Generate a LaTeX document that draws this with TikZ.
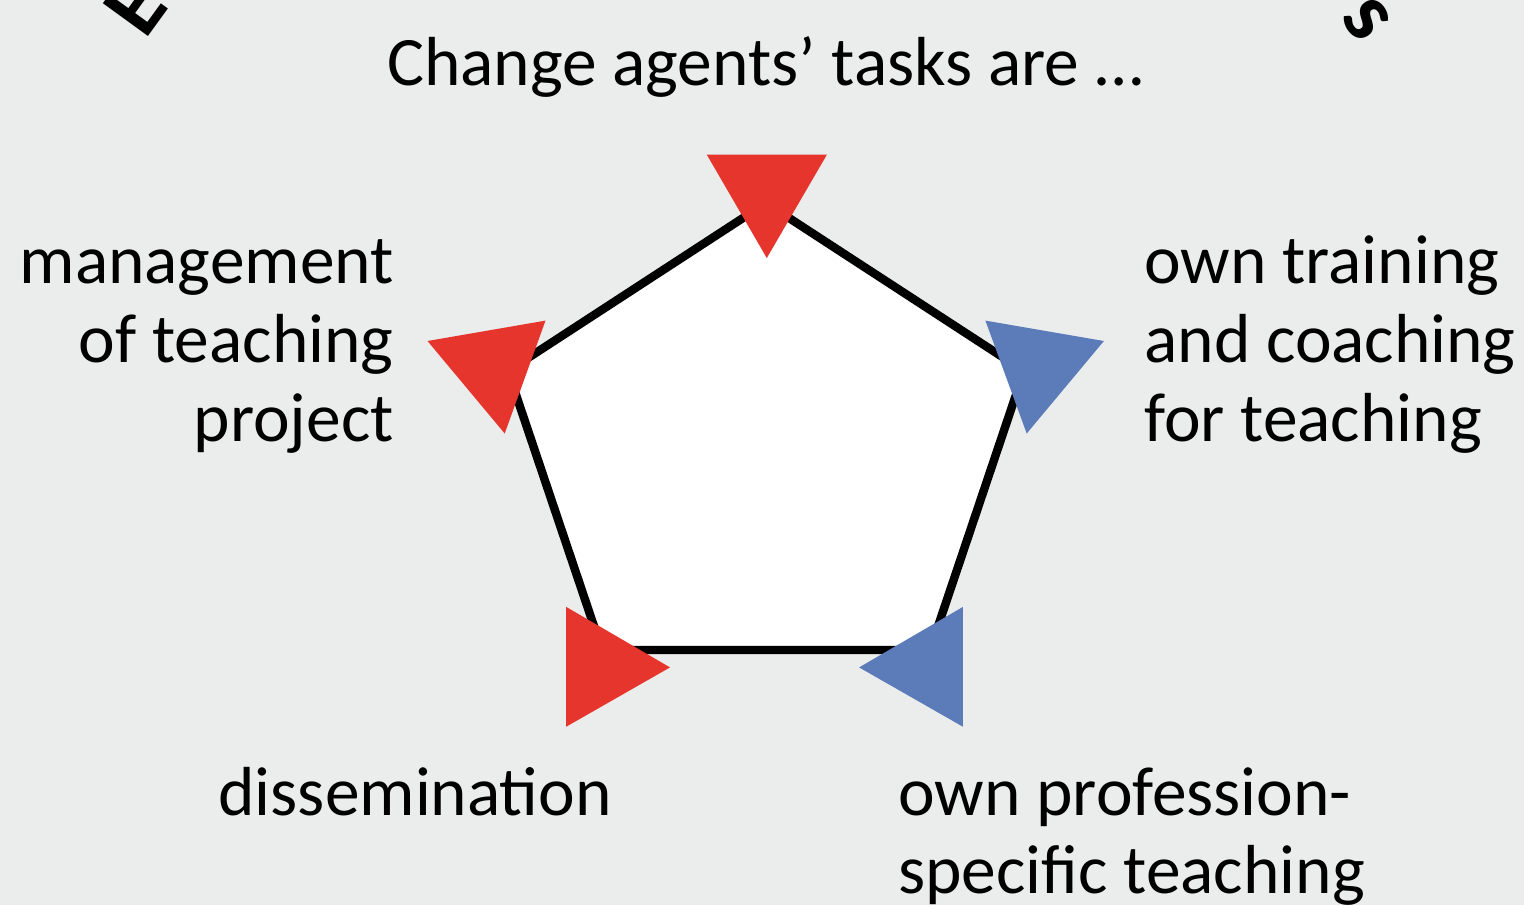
\documentclass[tikz,border=0pt]{standalone}
\usepackage{fontspec}
\setmainfont{Carlito}
\definecolor{bg}{RGB}{235,237,236}
\definecolor{tred}{RGB}{229,53,45}
\definecolor{tblue}{RGB}{92,123,185}
\begin{document}
\begin{tikzpicture}[x=0.5pt,y=-0.5pt,
  lbl/.style={inner sep=0pt,font=\fontsize{34.7}{40}\selectfont},
  arc/.style={inner sep=0pt,font=\fontsize{43}{50}\selectfont\bfseries},
  pent/.style={draw=black,line width=4.2pt,fill=white},
  redtri/.style={fill=tred},
  bluetri/.style={fill=tblue}]
\fill[bg] (0,0) rectangle (1524,905);
\useasboundingbox (0,0) rectangle (1524,905);
% pentagon
\coordinate (pT) at (766,203);
\coordinate (pR) at (1024,371);
\coordinate (pBR) at (930,650);
\coordinate (pBL) at (602,650);
\coordinate (pL) at (508,371);
\draw[pent] (pT) -- (pR) -- (pBR) -- (pBL) -- (pL) -- cycle;
% triangles
\fill[redtri] (706.7,154.5) -- (827,154.5) -- (766.8,258) -- cycle;
\fill[redtri] (427.5,341) -- (545.5,320.6) -- (504.7,433.5) -- cycle;
\fill[bluetri] (985.4,320.6) -- (1103.9,341) -- (1026.7,433.5) -- cycle;
\fill[redtri] (566.2,606.9) -- (566.2,726.7) -- (670,667.4) -- cycle;
\fill[bluetri] (962.9,606.9) -- (962.9,726.7) -- (859.1,667.4) -- cycle;
% title
\node[lbl,anchor=base] (title) at (765,85) {Change agents’ tasks are …};
% left
\node[lbl,anchor=base east] (m1) at (394,283) {management};
\node[lbl,anchor=base east] (m2) at (394,362) {of teaching};
\node[lbl,anchor=base east] (m3) at (394,441) {project};
% right
\node[lbl,anchor=base west] (r1) at (1144,283) {own training};
\node[lbl,anchor=base west] (r2) at (1144,362) {and coaching};
\node[lbl,anchor=base west] (r3) at (1144,441) {for teaching};
% bottom
\node[lbl,anchor=base west] (d1) at (218,815) {dissemination};
\node[lbl,anchor=base west] (o1) at (898,815) {own profession-};
\node[lbl,anchor=base west] (o2) at (898,893) {specific teaching};
% arc letters
\node[arc,anchor=base west,rotate=54] (e) at (145,41) {E};
\node[arc,anchor=center,rotate=-54] (s) at (1366,19) {s};
\end{tikzpicture}
\end{document}
